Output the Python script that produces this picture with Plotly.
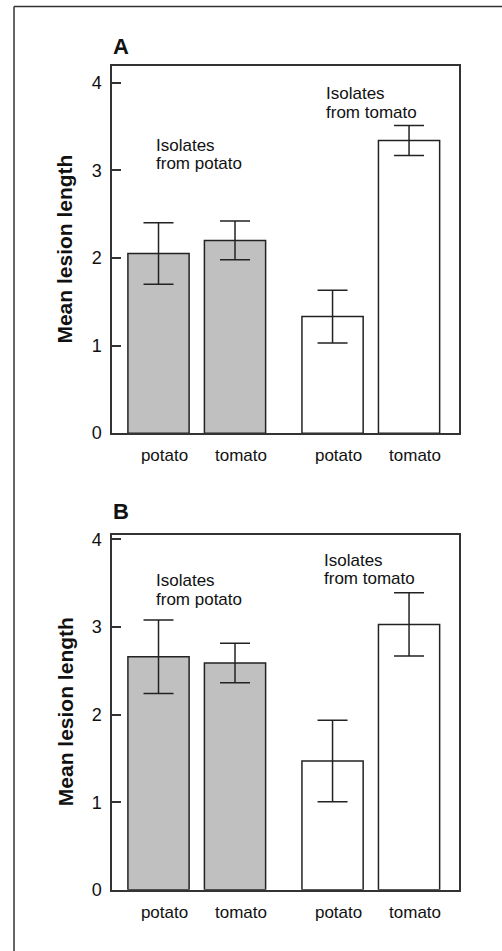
import plotly.graph_objects as go

W, H = 502, 951

# ---- data ----
hosts = ["potato", "tomato"]                 # host plant (x tick labels)
isolate_groups = ["Isolates<br>from potato", "Isolates<br>from tomato"]
panel_labels = ["A", "B"]

# mean lesion length per panel: [isolates from potato (potato, tomato), isolates from tomato (potato, tomato)]
means_A = [[2.05, 2.20], [1.33, 3.34]]
errs_A = [[0.35, 0.22], [0.30, 0.17]]
means_B = [[2.66, 2.59], [1.47, 3.03]]
errs_B = [[0.42, 0.225], [0.465, 0.36]]

y_ticks = [0, 1, 2, 3, 4]

# ---- styling / layout ----
group_step = 2.275      # offset between the first bars of the two groups
bar_width = 0.8
fills = ["#c0c0c0", "#ffffff"]
line_col = "#222222"
axis_col = "#333333"
font_family = "Liberation Sans, Arial, sans-serif"

def px_x(p):
    return p / W

def px_y(p):
    return 1 - p / H

panels = [
    dict(means=means_A, errs=errs_A, ydom=(435, 62), yrange=[0, 4.19],
         label_y=42.5,
         ann=[(-0.06, [3.28, 3.08]), (2.163, [3.88, 3.66])]),
    dict(means=means_B, errs=errs_B, ydom=(899, 538), yrange=[0, 4.056],
         label_y=515,
         ann=[(-0.06, [3.53, 3.31]), (2.137, [3.76, 3.55])]),
]

fig = go.Figure()
annotations = []
xtick_vals, xtick_text = [], []
for g in range(len(isolate_groups)):
    for i, h in enumerate(hosts):
        xtick_vals.append(g * group_step + i)
        xtick_text.append(h)

for k, p in enumerate(panels):
    ax = "" if k == 0 else str(k + 1)
    for g in range(len(isolate_groups)):
        xs = [g * group_step + i for i in range(len(hosts))]
        fig.add_trace(go.Bar(
            x=xs, y=p["means"][g], width=bar_width,
            marker=dict(color=fills[g], line=dict(color=line_col, width=1.5)),
            error_y=dict(type="data", array=p["errs"][g], color=line_col,
                         thickness=1.5, width=15),
            xaxis="x" + ax, yaxis="y" + ax, showlegend=False,
            hoverinfo="x+y",
        ))
        # group annotation lines
        xl, ys = p["ann"][g]
        for line_txt, yy in zip(isolate_groups[g].split("<br>"), ys):
            annotations.append(dict(
                x=xl, y=yy, xref="x" + ax, yref="y" + ax, text=line_txt,
                showarrow=False, xanchor="left", yanchor="middle",
                font=dict(size=17, color="#111", family=font_family)))
    y0, y1 = p["ydom"]
    common_axis = dict(showline=True, linecolor=axis_col, linewidth=1.5,
                       mirror=True, showgrid=False, zeroline=False)
    fig.update_layout(**{
        "xaxis" + ax: dict(type="linear", domain=[px_x(112), px_x(459)],
                           range=[-0.608, 3.928],
                           tickvals=xtick_vals, ticktext=xtick_text, tickangle=0,
                           ticks="outside", ticklen=6, tickcolor="rgba(0,0,0,0)",
                           ticklabelshift=6,
                           tickfont=dict(size=17, color="#111", family=font_family),
                           anchor="y" + ax, fixedrange=True, **common_axis),
        "yaxis" + ax: dict(domain=[px_y(y0), px_y(y1)], range=p["yrange"],
                           tickvals=y_ticks, ticks="inside", ticklen=9,
                           tickcolor=axis_col, tickwidth=1.5,
                           ticklabelstandoff=5,
                           tickfont=dict(size=18, color="#111", family=font_family),
                           anchor="x" + ax, fixedrange=True, **common_axis),
    })
    annotations.append(dict(
        x=px_x(65), y=(px_y(y0) + px_y(y1)) / 2, xref="paper", yref="paper",
        text="<b>Mean lesion length</b>", textangle=-90, showarrow=False,
        xanchor="center", yanchor="middle",
        font=dict(size=21, color="#111", family=font_family)))
    annotations.append(dict(
        x=px_x(111), y=px_y(p["label_y"]), xref="paper", yref="paper",
        text="<b>" + panel_labels[k] + "</b>", showarrow=False,
        xanchor="left", yanchor="middle",
        font=dict(size=22, color="#111", family=font_family)))

fig.update_layout(
    width=W, height=H, margin=dict(l=0, r=0, t=0, b=0),
    paper_bgcolor="white", plot_bgcolor="white",
    barmode="overlay", annotations=annotations, hovermode=False,
    shapes=[
        dict(type="line", xref="paper", yref="paper", x0=px_x(14), x1=1.02,
             y0=px_y(1.5), y1=px_y(1.5), line=dict(color=axis_col, width=1.5)),
        dict(type="line", xref="paper", yref="paper", x0=px_x(14), x1=px_x(14),
             y0=px_y(1.5), y1=-0.02, line=dict(color=axis_col, width=1.5)),
    ],
)

fig.write_html("out.html", config={"displayModeBar": False},
               post_script="document.body.style.margin='0';document.body.style.overflow='hidden';")
